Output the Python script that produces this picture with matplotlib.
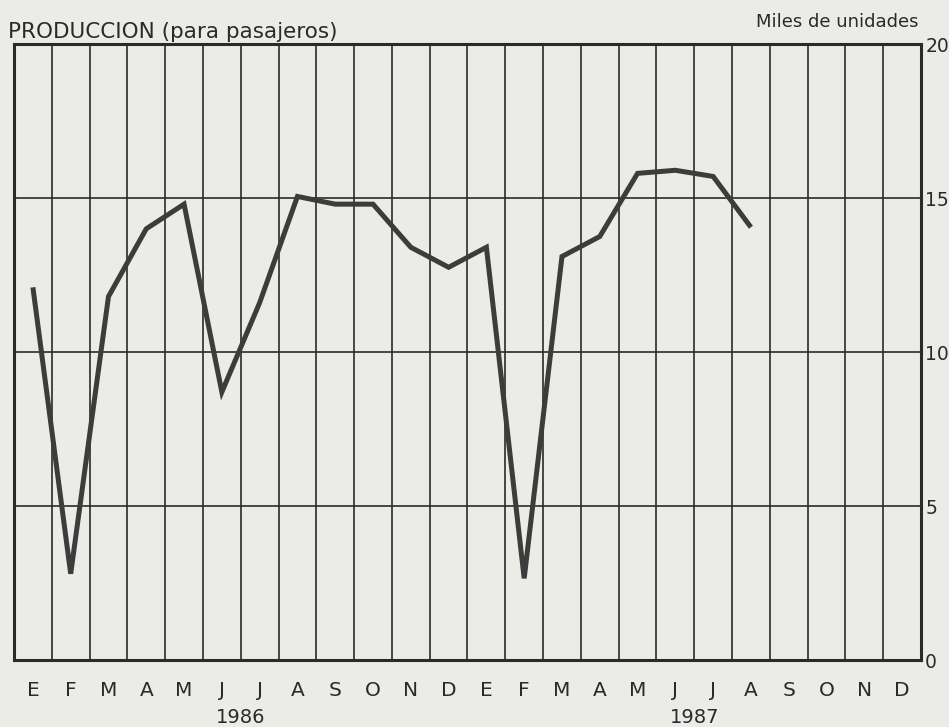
import numpy as np
import matplotlib.pyplot as plt

# months of 1986 and 1987 (Spanish initials)
months = ['E', 'F', 'M', 'A', 'M', 'J', 'J', 'A', 'S', 'O', 'N', 'D'] * 2
years = ['1986', '1987']

# passenger car production, thousands of units (Jan 1986 .. Aug 1987)
produccion = [12.1, 2.8, 11.8, 14.0, 14.8, 8.7, 11.6, 15.05, 14.8, 14.8, 13.4, 12.75,
              13.4, 2.65, 13.1, 13.75, 15.8, 15.9, 15.7, 14.05]

y_ticks = [0, 5, 10, 15, 20]

bg = '#ebebe8'
ink = '#2a2a2a'

fig = plt.figure(figsize=(9.49, 7.27), dpi=100, facecolor=bg)
ax = fig.add_axes([14 / 949, 1 - 660 / 727, 907 / 949, 616 / 727])
ax.set_facecolor(bg)

x = np.arange(len(produccion))
ax.plot(x, produccion, color='#3c3c3c', linewidth=3.6, solid_joinstyle='miter',
        solid_capstyle='butt', zorder=3)

ax.set_xlim(-0.5, len(months) - 0.5)
ax.set_ylim(0, 20)

# vertical grid between months, horizontal grid every 5
for xv in np.arange(0.5, len(months) - 0.5, 1):
    ax.axvline(xv, color=ink, linewidth=1.2, zorder=1)
for yv in y_ticks[1:-1]:
    ax.axhline(yv, color=ink, linewidth=1.2, zorder=1)

for s in ax.spines.values():
    s.set_linewidth(2.2)
    s.set_color(ink)

ax.set_xticks(np.arange(len(months)))
ax.set_xticklabels(months, fontsize=14.5, color=ink)
ax.tick_params(axis='x', length=0, pad=15)

ax.yaxis.tick_right()
ax.set_yticks(y_ticks)
ax.set_yticklabels([str(v) for v in y_ticks], fontsize=13.5, color=ink)
ax.tick_params(axis='y', length=0, pad=3)

ax.text(5.5, -0.078, years[0], transform=ax.get_xaxis_transform(), ha='center', va='top',
        fontsize=14, color=ink)
ax.text(17.5, -0.078, years[1], transform=ax.get_xaxis_transform(), ha='center', va='top',
        fontsize=14, color=ink)

fig.text(8 / 949, 1 - 32 / 727, 'PRODUCCION (para pasajeros)', ha='left', va='center',
         fontsize=15.5, color=ink)
fig.text(918 / 949, 1 - 22 / 727, 'Miles de unidades', ha='right', va='center',
         fontsize=13, color=ink)

fig.savefig('out.png', dpi=100, facecolor=bg)
